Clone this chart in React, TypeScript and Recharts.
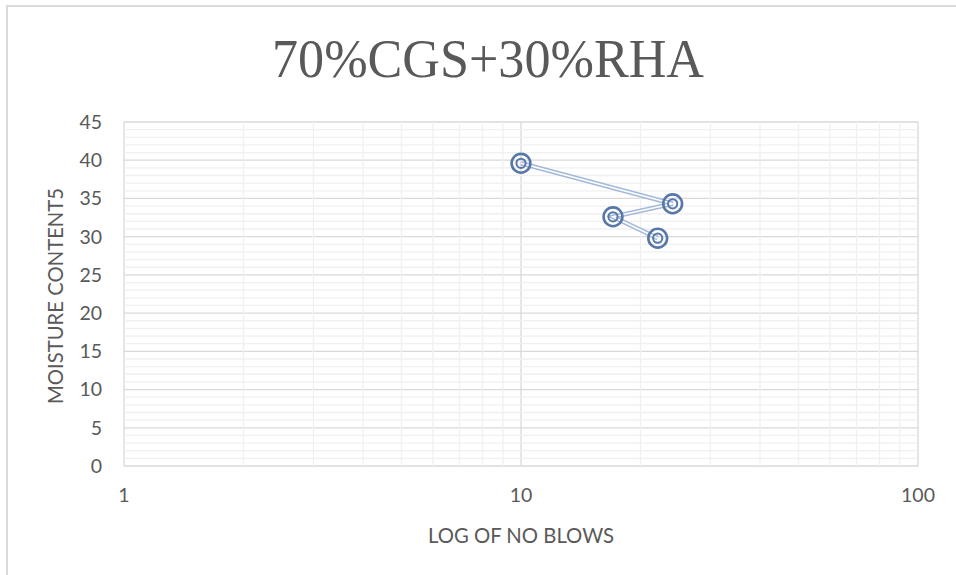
import React from "react";
import {
  LineChart,
  Line,
  XAxis,
  YAxis,
  CartesianGrid,
  ReferenceLine,
  Label,
} from "recharts";

// Liquid limit test: number of blows vs moisture content
const blows = [10, 24.1, 17.05, 22.1];
const moisture = [39.6, 34.3, 32.6, 29.8];

const xTicks = [1, 10, 100];
const yTicks = [0, 5, 10, 15, 20, 25, 30, 35, 40, 45];
const xMinor = [2, 3, 4, 5, 6, 7, 8, 9, 20, 30, 40, 50, 60, 70, 80, 90];
const yMinor = Array.from({ length: 46 }, (_, i) => i).filter((v) => v % 5 !== 0);

const data = blows.map((b, i) => ({ blows: b, mc: moisture[i] }));

const TEXT = "#595959";
const FONT = "Lato, 'Open Sans', sans-serif";
const MARKER = "#5677a8";
const LINE = "#a3b8da";

const RingDot = (props: any) => {
  const { cx, cy, index } = props;
  if (cx == null || cy == null) return null;
  return (
    <g key={`dot-${index}`}>
      <circle cx={cx} cy={cy} r={9.4} fill="none" stroke={MARKER} strokeWidth={2.6} />
      <circle cx={cx} cy={cy} r={4.6} fill="none" stroke={MARKER} strokeWidth={2} />
    </g>
  );
};

export default function App() {
  return (
    <div
      style={{
        position: "absolute",
        left: 0,
        top: 0,
        width: 956,
        height: 575,
        overflow: "hidden",
        background: "#fff",
      }}
    >
      <div
        style={{
          position: "absolute",
          left: 6,
          top: 5,
          width: 1000,
          height: 700,
          border: "2px solid #d9d9d9",
          boxSizing: "border-box",
        }}
      />
      <div style={{ position: "absolute", left: 0, top: 0 }}>
        <svg width={956} height={100} style={{ display: "block" }}>
          <text
            x={488}
            y={77}
            textAnchor="middle"
            fill={TEXT}
            fontFamily="'Liberation Serif', 'DejaVu Serif', serif"
            fontSize={54}
            textLength={432}
            lengthAdjust="spacingAndGlyphs"
          >
            70%CGS+30%RHA
          </text>
        </svg>
      </div>
      <div style={{ position: "absolute", left: 0, top: 0 }}>
        <LineChart
          width={956}
          height={575}
          data={data}
          margin={{ top: 122, right: 38, bottom: 49, left: 0 }}
        >
          <CartesianGrid stroke="#d9d9d9" strokeWidth={1.3} />
          {yMinor.map((v) => (
            <ReferenceLine key={`ym-${v}`} y={v} stroke="#f0f0f0" strokeWidth={1.3} />
          ))}
          {xMinor.map((v) => (
            <ReferenceLine key={`xm-${v}`} x={v} stroke="#f0f0f0" strokeWidth={1.3} />
          ))}
          <XAxis
            dataKey="blows"
            type="number"
            scale="log"
            domain={[1, 100]}
            ticks={xTicks}
            allowDataOverflow
            axisLine={false}
            tickLine={false}
            tickSize={0}
            tickMargin={22}
            height={60}
            tick={{ fill: TEXT, fontSize: 19.5, fontFamily: FONT }}
          >
            <Label
              content={() => (
                <text
                  x={521}
                  y={543}
                  textAnchor="middle"
                  fill={TEXT}
                  fontSize={20.3}
                  fontFamily={FONT}
                >
                  LOG OF NO BLOWS
                </text>
              )}
            />
          </XAxis>
          <YAxis
            type="number"
            domain={[0, 45]}
            ticks={yTicks}
            axisLine={false}
            tickLine={false}
            tickSize={0}
            tickMargin={22}
            width={124}
            tick={{ fill: TEXT, fontSize: 19.5, fontFamily: FONT }}
          >
            <Label
              content={() => (
                <text
                  x={63}
                  y={296}
                  textAnchor="middle"
                  fill={TEXT}
                  fontSize={20.3}
                  fontFamily={FONT}
                  transform="rotate(-90 63 296)"
                >
                  MOISTURE CONTENT5
                </text>
              )}
            />
          </YAxis>
          <Line
            dataKey="mc"
            stroke={LINE}
            strokeWidth={4.6}
            dot={false}
            isAnimationActive={false}
          />
          <Line
            dataKey="mc"
            stroke="#ffffff"
            strokeWidth={1.6}
            dot={<RingDot />}
            activeDot={false}
            isAnimationActive={false}
          />
        </LineChart>
      </div>
    </div>
  );
}
